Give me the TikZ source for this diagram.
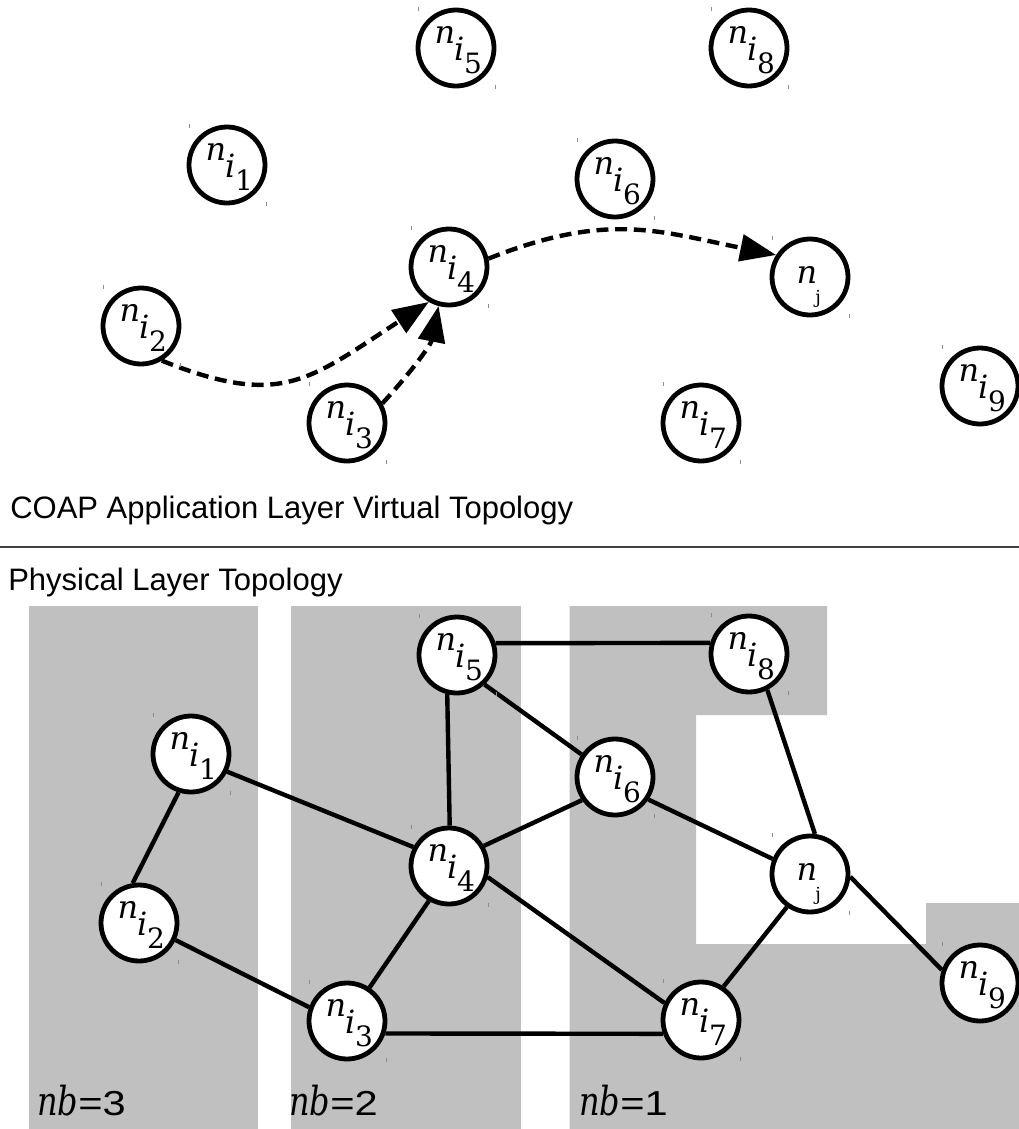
\documentclass[tikz,border=0pt]{standalone}
\usepackage{fontspec}
\newfontfamily\lsans{Liberation Sans}
\newfontfamily\dserif{DejaVu Serif}
\usetikzlibrary{arrows.meta}

\definecolor{zonegray}{RGB}{192,192,192}

% label n_{i_k}: pieces placed around the circle centre
\newcommand\nilabel[1]{\smash{%
  \makebox[0pt][l]{\hspace*{-16pt}\raisebox{3.5pt}{\dserif\fontsize{24pt}{26pt}\selectfont\itshape n}}%
  \makebox[0pt][l]{\hspace*{-1.5pt}\raisebox{-9.5pt}{\dserif\fontsize{24pt}{26pt}\selectfont\itshape i}}%
  \makebox[0pt][l]{\hspace*{6pt}\raisebox{-19pt}{\dserif\fontsize{21pt}{22pt}\selectfont #1}}}}
% label n_j
\newcommand\njlabel{\smash{%
  \makebox[0pt][l]{\hspace*{-10pt}\raisebox{-5pt}{\dserif\fontsize{24pt}{26pt}\selectfont\itshape n}}%
  \makebox[0pt][l]{\hspace*{4pt}\raisebox{-20pt}{\dserif\fontsize{13.5pt}{14pt}\selectfont j}}}}
% zone label nb=k
\newcommand\nblabel[1]{%
  \scalebox{0.8}[1]{\dserif\fontsize{30pt}{32pt}\selectfont\itshape nb}%
  \scalebox{1.2}[1]{\lsans\fontsize{26pt}{28pt}\selectfont =#1}}

\tikzset{
  vnode/.style={circle, draw, line width=3.6pt, fill=white, minimum size=57pt, inner sep=0pt},
  link/.style={line width=3.3pt},
  hop/.style={line width=3.3pt, dash pattern=on 9pt off 5pt, -{Triangle[length=27pt,width=20pt]}},
  cornertick/.style={draw=black!45, line width=0.75pt},
  zone/.style={fill=zonegray},
  title/.style={anchor=base west, inner sep=0pt, font={\lsans\fontsize{23.25pt}{28pt}\selectfont}},
  zonetext/.style={anchor=base west, inner sep=0pt},
}

\begin{document}
\begin{tikzpicture}[x=0.75pt, y=-0.75pt]
\path[use as bounding box] (0,0) rectangle (1019,1129);

% ---------------- virtual topology ----------------
\node[vnode] (t5) at (456,48)  {\nilabel{5}};
\node[vnode] (t8) at (749,48)  {\nilabel{8}};
\node[vnode] (t1) at (227,165) {\nilabel{1}};
\node[vnode] (t6) at (615,179) {\nilabel{6}};
\node[vnode] (t4) at (449,267) {\nilabel{4}};
\node[vnode] (tj) at (810,277) {\njlabel};
\node[vnode] (t2) at (141,326) {\nilabel{2}};
\node[vnode] (t9) at (980,386) {\nilabel{9}};
\node[vnode] (t3) at (347,423) {\nilabel{3}};
\node[vnode] (t7) at (701,423) {\nilabel{7}};

\draw[hop] (t2.-59) .. controls +(120,48) and +(-120,78) .. (t4.-120);
\draw[hop] (t3.29) .. controls +(25,-27) and +(-8,40) .. (t4.-105);
\draw[hop] (t4.12) .. controls +(118,-47) and +(-118,-24) .. (tj.147);

\node[title] (vtitle) at (10,518) {COAP Application Layer Virtual Topology};

% divider
\coordinate (divl) at (0,547);
\coordinate (divr) at (1019,547);
\draw[line width=0.9pt, black!75] (divl) -- (divr);

% ---------------- physical topology ----------------
\node[title] (ptitle) at (8,590) {Physical Layer Topology};

\fill[zone] (28.5,606) rectangle (258,1129);
\fill[zone] (291,606) rectangle (521,1129);
\fill[zone] (569.5,606) -- (827,606) -- (827,715) -- (696,715) -- (696,944)
  -- (926,944) -- (926,903) -- (1019,903) -- (1019,1129) -- (569.5,1129) -- cycle;

\node[zonetext] (nb3) at (37,1115)  {\nblabel{3}};
\node[zonetext] (nb2) at (289,1115) {\nblabel{2}};
\node[zonetext] (nb1) at (579,1115) {\nblabel{1}};

\node[vnode] (b5) at (457,655)  {\nilabel{5}};
\node[vnode] (b8) at (749,654)  {\nilabel{8}};
\node[vnode] (b1) at (191,754)  {\nilabel{1}};
\node[vnode] (b6) at (615,777)  {\nilabel{6}};
\node[vnode] (b4) at (449,866)  {\nilabel{4}};
\node[vnode] (bj) at (810,874)  {\njlabel};
\node[vnode] (b2) at (139,923)  {\nilabel{2}};
\node[vnode] (b9) at (980,983)  {\nilabel{9}};
\node[vnode] (b3) at (347,1021) {\nilabel{3}};
\node[vnode] (b7) at (701,1020) {\nilabel{7}};

\draw[link] (b5.17)   -- (b8.164);
\draw[link] (b5.-104) -- (b4.89);
\draw[link] (b5.-47)  -- (b6.146);
\draw[link] (b1.-26)  -- (b4.152);
\draw[link] (b1.-108) -- (b2.99);
\draw[link] (b2.-25)  -- (b3.160);
\draw[link] (b3.56)   -- (b4.-120);
\draw[link] (b3.-18)  -- (b7.-160);
\draw[link] (b4.30)   -- (b6.-145);
\draw[link] (b4.-16)  -- (b7.155);
\draw[link] (b6.-34)  -- (bj.158);
\draw[link] (b8.-63)  -- (bj.83);
\draw[link] (bj.-125) -- (b7.56);
\draw[link] (bj.-4)   -- (b9.161);

% small corner ticks of each node frame
\foreach \n in {t1,t2,t3,t4,t5,t6,t7,t8,t9,tj,b1,b2,b3,b4,b5,b6,b7,b8,b9,bj}{
  \draw[cornertick] ([shift={(-38,-41)}]\n.center) -- ++(0,4);
  \draw[cornertick] ([shift={(39.5,37)}]\n.center) -- ++(0,4);
}
\end{tikzpicture}
\end{document}
